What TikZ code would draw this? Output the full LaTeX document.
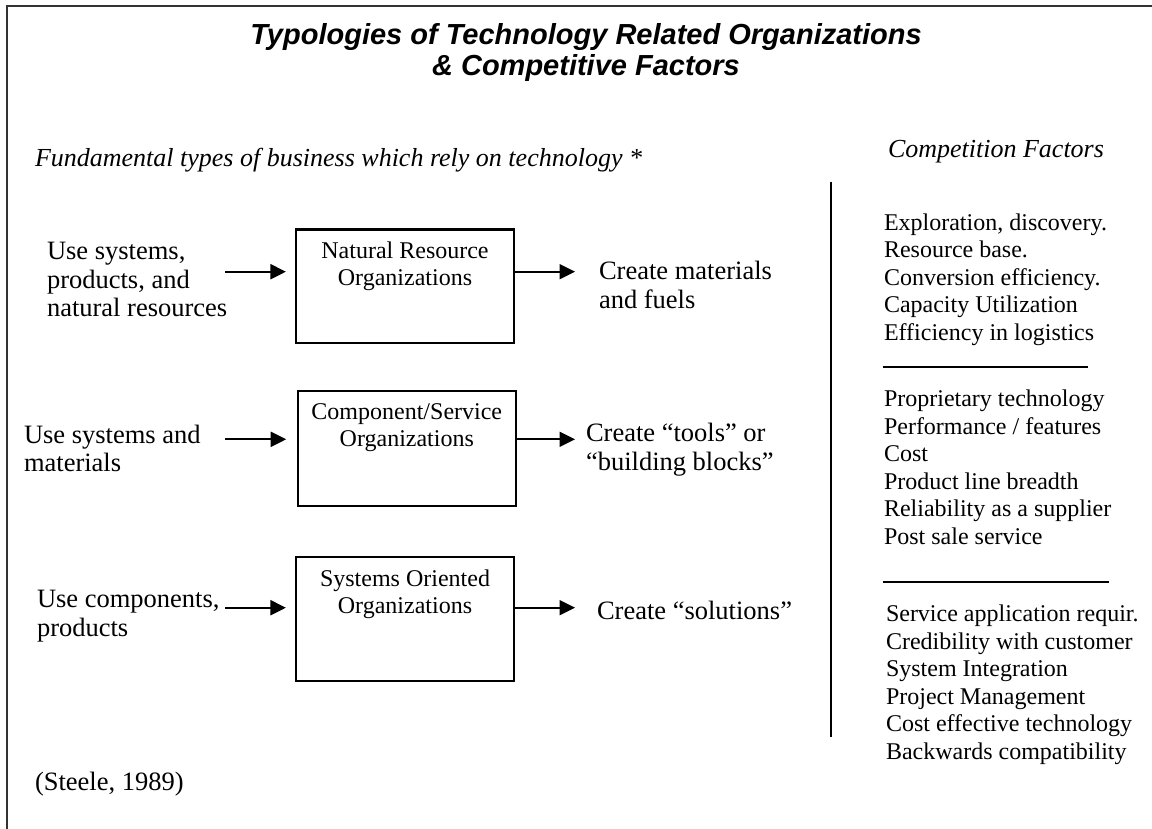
\documentclass[tikz,border=0pt]{standalone}
\usepackage{fontspec}
\setmainfont{Liberation Serif}
\newfontfamily\arialfont{Liberation Sans}
\usetikzlibrary{positioning,arrows.meta}
\tikzset{%
  block/.style    = {draw, line width=2.2pt, rectangle, minimum width=218pt, inner sep=0pt},
  boxtext/.style  = {align=center, inner sep=0pt, font=\fontsize{24}{27.3}\selectfont},
  input/.style    = {align=left, anchor=north west, inner sep=0pt, font=\fontsize{26.5}{28.5}\selectfont}, % Input
  output/.style   = {input}, % Output
  factor/.style   = {align=left, anchor=north west, inner sep=0pt, font=\fontsize{24}{27.5}\selectfont},
  heading/.style  = {anchor=base west, inner sep=0pt, font=\fontsize{26}{30}\selectfont\itshape},
  title/.style    = {anchor=north, align=center, inner sep=0pt,
    font=\arialfont\bfseries\itshape\fontsize{29}{30.5}\selectfont},
  note/.style     = {anchor=base west, inner sep=0pt, font=\fontsize{26.5}{30}\selectfont},
  rule/.style     = {line width=1.7pt},
  frame/.style    = {line width=2pt, black!80}
}

\begin{document}
\begin{tikzpicture}[x=1pt, y=-1pt, line width=2pt, >={Triangle[length=15.5pt, width=15pt]}]

  \useasboundingbox (0,0) rectangle (1152,829);
  \draw[frame] (7,829) -- (7,5.8) -- (1152,5.8);

  \draw node at (586,22.6) [title] (title) {Typologies of Technology Related Organizations\\\& Competitive Factors};
  \draw node at (34,167) [heading] (types) {Fundamental types of business which rely on technology *};
  \draw node at (887,158) [heading] (comp) {Competition Factors};

  % organization boxes
  \draw node at (405,286.2) [block, minimum height=113.5pt] (nro) {};
  \draw node at (406.8,448.5) [block, minimum height=115pt] (cso) {};
  \draw node at (405,619) [block, minimum height=124pt] (soo) {};
  \draw node [boxtext, below=12.5pt of nro.north] (nrotext) {Natural Resource\\Organizations};
  \draw node [boxtext, below=12.5pt of cso.north] (csotext) {Component/Service\\Organizations};
  \draw node [boxtext, below=12.5pt of soo.north] (sootext) {Systems Oriented\\Organizations};

  % what goes in
  \draw node at (46,241.4) [input] (in1) {Use systems,\\products, and\\natural resources};
  \draw node at (23,423.8) [input] (in2) {Use systems and\\materials};
  \draw node at (36,589.4) [input] (in3) {Use components,\\products};

  % what comes out
  \draw node at (598,260.5) [output] (out1) {Create materials\\and fuels};
  \draw node at (585,422.2) [output] (out2) {Create ``tools'' or\\``building blocks''};
  \draw node at (596,600.5) [output] (out3) {Create ``solutions''};

  \coordinate (a1) at (225,271.7);
  \coordinate (a2) at (225,439.3);
  \coordinate (a3) at (225,607.7);
  \coordinate (b1) at (575,271.7);
  \coordinate (b2) at (575,439.3);
  \coordinate (b3) at (575,607.7);

  \draw[->, shorten >=9pt] (a1) -- (a1 -| nro.west);
  \draw[->, shorten >=10.5pt] (a2) -- (a2 -| cso.west);
  \draw[->, shorten >=9pt] (a3) -- (a3 -| soo.west);
  \draw[->] (a1 -| nro.east) -- (b1);
  \draw[->] (a2 -| cso.east) -- (b2);
  \draw[->] (a3 -| soo.east) -- (b3);

  % competition factors column
  \draw[rule] (831,181.7) -- (831,736.7);
  \draw node at (883,212.7) [factor] (nrf) {Exploration, discovery.\\Resource base.\\Conversion efficiency.\\Capacity Utilization\\Efficiency in logistics};
  \draw[rule] (883,366.7) -- (1088,366.7);
  \draw node at (883,389) [factor] (csf) {Proprietary technology\\Performance / features\\Cost\\Product line breadth\\Reliability as a supplier\\Post sale service};
  \draw[rule] (883,581.7) -- (1109,581.7);
  \draw node at (885,604) [factor] (sof) {Service application requir.\\Credibility with customer\\System Integration\\Project Management\\Cost effective technology\\Backwards compatibility};

  \draw node at (34,790) [note] (src) {(Steele, 1989)};

\end{tikzpicture}
\end{document}
